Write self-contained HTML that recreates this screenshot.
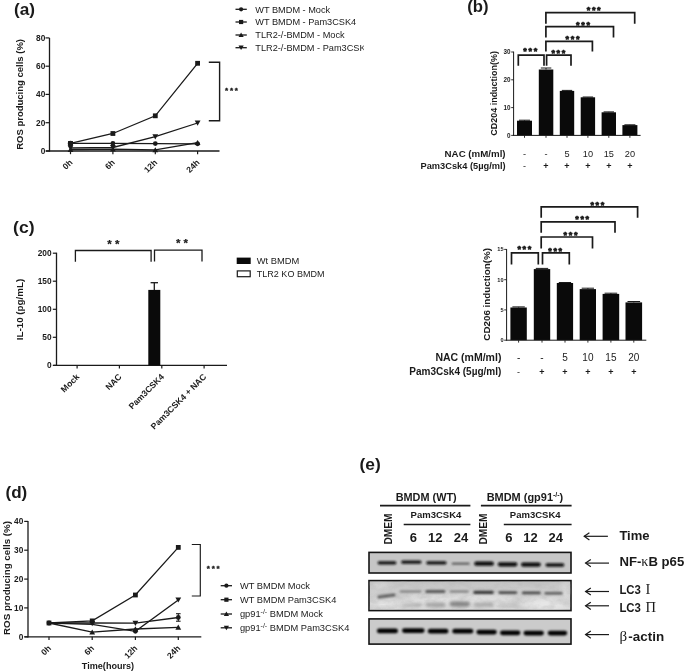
<!DOCTYPE html>
<html lang="en">
<head>
<meta charset="utf-8">
<title>Figure</title>
<style>
html,body{margin:0;padding:0;background:#fff;}
body{width:685px;height:672px;overflow:hidden;}
svg{display:block;font-family:"Liberation Sans",Arial,sans-serif;}
svg text{fill:#1a1a1a;}
</style>
</head>
<body>
<svg width="685" height="672" viewBox="0 0 685 672">
<rect x="0" y="0" width="685" height="672" fill="#ffffff"/>
<g id="panel-a">
<text x="14.0" y="14.6" font-size="17" font-weight="bold" textLength="21.0" lengthAdjust="spacingAndGlyphs">(a)</text>
<line x1="49.5" y1="38.0" x2="49.5" y2="151.6" stroke="#1a1a1a" stroke-width="1.3"/>
<line x1="46.0" y1="151.0" x2="219.5" y2="151.0" stroke="#1a1a1a" stroke-width="1.3"/>
<line x1="45.5" y1="151.0" x2="49.5" y2="151.0" stroke="#1a1a1a" stroke-width="1.2"/>
<text x="45.3" y="154.0" font-size="8.3" font-weight="bold" text-anchor="end">0</text>
<line x1="45.5" y1="122.7" x2="49.5" y2="122.7" stroke="#1a1a1a" stroke-width="1.2"/>
<text x="45.3" y="125.7" font-size="8.3" font-weight="bold" text-anchor="end">20</text>
<line x1="45.5" y1="94.4" x2="49.5" y2="94.4" stroke="#1a1a1a" stroke-width="1.2"/>
<text x="45.3" y="97.4" font-size="8.3" font-weight="bold" text-anchor="end">40</text>
<line x1="45.5" y1="66.2" x2="49.5" y2="66.2" stroke="#1a1a1a" stroke-width="1.2"/>
<text x="45.3" y="69.2" font-size="8.3" font-weight="bold" text-anchor="end">60</text>
<line x1="45.5" y1="37.9" x2="49.5" y2="37.9" stroke="#1a1a1a" stroke-width="1.2"/>
<text x="45.3" y="40.9" font-size="8.3" font-weight="bold" text-anchor="end">80</text>
<line x1="70.5" y1="151.0" x2="70.5" y2="154.2" stroke="#1a1a1a" stroke-width="1.2"/>
<text x="73.1" y="163.0" font-size="8.5" font-weight="bold" text-anchor="end" transform="rotate(-45 73.1 163.0)">0h</text>
<line x1="112.9" y1="151.0" x2="112.9" y2="154.2" stroke="#1a1a1a" stroke-width="1.2"/>
<text x="115.5" y="163.0" font-size="8.5" font-weight="bold" text-anchor="end" transform="rotate(-45 115.5 163.0)">6h</text>
<line x1="155.3" y1="151.0" x2="155.3" y2="154.2" stroke="#1a1a1a" stroke-width="1.2"/>
<text x="157.9" y="163.0" font-size="8.5" font-weight="bold" text-anchor="end" transform="rotate(-45 157.9 163.0)">12h</text>
<line x1="197.6" y1="151.0" x2="197.6" y2="154.2" stroke="#1a1a1a" stroke-width="1.2"/>
<text x="200.2" y="163.0" font-size="8.5" font-weight="bold" text-anchor="end" transform="rotate(-45 200.2 163.0)">24h</text>
<text x="23.1" y="94.4" font-size="9" font-weight="bold" text-anchor="middle" transform="rotate(-90 23.1 94.4)" textLength="110.8" lengthAdjust="spacingAndGlyphs">ROS producing cells (%)</text>
<polyline points="70.5,143.4 112.9,143.4 155.3,143.6 197.6,143.8" fill="none" stroke="#1a1a1a" stroke-width="1.3" stroke-linejoin="miter"/>
<polyline points="70.5,143.4 112.9,133.5 155.3,115.8 197.6,63.3" fill="none" stroke="#1a1a1a" stroke-width="1.3" stroke-linejoin="miter"/>
<polyline points="70.5,149.6 112.9,149.2 155.3,149.9 197.6,142.7" fill="none" stroke="#1a1a1a" stroke-width="1.3" stroke-linejoin="miter"/>
<polyline points="70.5,148.0 112.9,147.5 155.3,136.7 197.6,123.0" fill="none" stroke="#1a1a1a" stroke-width="1.3" stroke-linejoin="miter"/>
<circle cx="70.5" cy="143.4" r="2.4" fill="#1a1a1a"/>
<circle cx="112.9" cy="143.4" r="2.4" fill="#1a1a1a"/>
<circle cx="155.3" cy="143.6" r="2.4" fill="#1a1a1a"/>
<circle cx="197.6" cy="143.8" r="2.4" fill="#1a1a1a"/>
<rect x="68.1" y="141.0" width="4.8" height="4.8" fill="#1a1a1a"/>
<rect x="110.5" y="131.1" width="4.8" height="4.8" fill="#1a1a1a"/>
<rect x="152.9" y="113.4" width="4.8" height="4.8" fill="#1a1a1a"/>
<rect x="195.2" y="60.9" width="4.8" height="4.8" fill="#1a1a1a"/>
<polygon points="67.6,152.0 73.4,152.0 70.5,146.9" fill="#1a1a1a"/>
<polygon points="110.0,151.6 115.8,151.6 112.9,146.5" fill="#1a1a1a"/>
<polygon points="152.4,152.3 158.2,152.3 155.3,147.2" fill="#1a1a1a"/>
<polygon points="194.7,145.1 200.5,145.1 197.6,140.0" fill="#1a1a1a"/>
<polygon points="67.6,145.6 73.4,145.6 70.5,150.7" fill="#1a1a1a"/>
<polygon points="110.0,145.1 115.8,145.1 112.9,150.2" fill="#1a1a1a"/>
<polygon points="152.4,134.3 158.2,134.3 155.3,139.4" fill="#1a1a1a"/>
<polygon points="194.7,120.6 200.5,120.6 197.6,125.7" fill="#1a1a1a"/>
<circle cx="70.5" cy="143.4" r="2.7" fill="#1a1a1a"/>
<polyline points="208.8,62.3 219.6,62.3 219.6,120.8 208.8,120.8" fill="none" stroke="#1a1a1a" stroke-width="1.4" stroke-linejoin="miter"/>
<text x="225.0" y="92.7" font-size="8" font-weight="bold" letter-spacing="1.79" stroke="#1a1a1a" stroke-width="0.35" stroke-linejoin="round">***</text>
<clipPath id="clipA"><rect x="230" y="0" width="133.8" height="60"/></clipPath><g clip-path="url(#clipA)">
<line x1="235.5" y1="9.3" x2="246.8" y2="9.3" stroke="#1a1a1a" stroke-width="1.3"/>
<circle cx="241.1" cy="9.3" r="2.1" fill="#1a1a1a"/>
<text x="255.3" y="12.6" font-size="9.2" fill="#2a2a2a">WT BMDM - Mock</text>
<line x1="235.5" y1="22.0" x2="246.8" y2="22.0" stroke="#1a1a1a" stroke-width="1.3"/>
<rect x="239.0" y="19.9" width="4.2" height="4.2" fill="#1a1a1a"/>
<text x="255.3" y="25.3" font-size="9.2" fill="#2a2a2a">WT BMDM - Pam3CSK4</text>
<line x1="235.5" y1="35.0" x2="246.8" y2="35.0" stroke="#1a1a1a" stroke-width="1.3"/>
<polygon points="238.5,37.1 243.7,37.1 241.1,32.6" fill="#1a1a1a"/>
<text x="255.3" y="38.3" font-size="9.2" fill="#2a2a2a">TLR2-/-BMDM - Mock</text>
<line x1="235.5" y1="47.7" x2="246.8" y2="47.7" stroke="#1a1a1a" stroke-width="1.3"/>
<polygon points="238.5,45.6 243.7,45.6 241.1,50.1" fill="#1a1a1a"/>
<text x="255.3" y="51.0" font-size="9.2" fill="#2a2a2a">TLR2-/-BMDM - Pam3CSK4</text>
</g>
</g>
<g id="panel-b">
<text x="467.2" y="12.0" font-size="17" font-weight="bold" textLength="21.3" lengthAdjust="spacingAndGlyphs">(b)</text>
<line x1="524.5" y1="120.2" x2="524.5" y2="120.7" stroke="#1a1a1a" stroke-width="1.0"/>
<line x1="519.0" y1="120.2" x2="530.0" y2="120.2" stroke="#1a1a1a" stroke-width="1.0"/>
<rect x="517.0" y="120.7" width="15.0" height="14.7" fill="#0a0a0a"/>
<line x1="524.5" y1="135.4" x2="524.5" y2="137.8" stroke="#1a1a1a" stroke-width="0.9"/>
<line x1="546.0" y1="68.0" x2="546.0" y2="69.5" stroke="#1a1a1a" stroke-width="1.0"/>
<line x1="540.8" y1="68.0" x2="551.3" y2="68.0" stroke="#1a1a1a" stroke-width="1.0"/>
<rect x="538.8" y="69.5" width="14.5" height="65.9" fill="#0a0a0a"/>
<line x1="546.0" y1="135.4" x2="546.0" y2="137.8" stroke="#1a1a1a" stroke-width="0.9"/>
<line x1="567.0" y1="90.4" x2="567.0" y2="90.9" stroke="#1a1a1a" stroke-width="1.0"/>
<line x1="561.8" y1="90.4" x2="572.2" y2="90.4" stroke="#1a1a1a" stroke-width="1.0"/>
<rect x="559.8" y="90.9" width="14.4" height="44.5" fill="#0a0a0a"/>
<line x1="567.0" y1="135.4" x2="567.0" y2="137.8" stroke="#1a1a1a" stroke-width="0.9"/>
<line x1="587.9" y1="97.0" x2="587.9" y2="97.3" stroke="#1a1a1a" stroke-width="1.0"/>
<line x1="582.7" y1="97.0" x2="593.1" y2="97.0" stroke="#1a1a1a" stroke-width="1.0"/>
<rect x="580.7" y="97.3" width="14.4" height="38.1" fill="#0a0a0a"/>
<line x1="587.9" y1="135.4" x2="587.9" y2="137.8" stroke="#1a1a1a" stroke-width="0.9"/>
<line x1="608.8" y1="111.9" x2="608.8" y2="112.3" stroke="#1a1a1a" stroke-width="1.0"/>
<line x1="603.6" y1="111.9" x2="614.0" y2="111.9" stroke="#1a1a1a" stroke-width="1.0"/>
<rect x="601.6" y="112.3" width="14.4" height="23.1" fill="#0a0a0a"/>
<line x1="608.8" y1="135.4" x2="608.8" y2="137.8" stroke="#1a1a1a" stroke-width="0.9"/>
<line x1="629.9" y1="124.8" x2="629.9" y2="125.1" stroke="#1a1a1a" stroke-width="1.0"/>
<line x1="624.4" y1="124.8" x2="635.4" y2="124.8" stroke="#1a1a1a" stroke-width="1.0"/>
<rect x="622.4" y="125.1" width="15.0" height="10.3" fill="#0a0a0a"/>
<line x1="629.9" y1="135.4" x2="629.9" y2="137.8" stroke="#1a1a1a" stroke-width="0.9"/>
<line x1="513.6" y1="51.6" x2="513.6" y2="135.8" stroke="#1a1a1a" stroke-width="1.0"/>
<line x1="513.1" y1="135.4" x2="640.6" y2="135.4" stroke="#1a1a1a" stroke-width="1.0"/>
<line x1="511.2" y1="135.4" x2="513.6" y2="135.4" stroke="#1a1a1a" stroke-width="0.9"/>
<text x="510.6" y="137.6" font-size="6.3" font-weight="bold" text-anchor="end">0</text>
<line x1="511.2" y1="107.6" x2="513.6" y2="107.6" stroke="#1a1a1a" stroke-width="0.9"/>
<text x="510.6" y="109.8" font-size="6.3" font-weight="bold" text-anchor="end">10</text>
<line x1="511.2" y1="79.8" x2="513.6" y2="79.8" stroke="#1a1a1a" stroke-width="0.9"/>
<text x="510.6" y="82.0" font-size="6.3" font-weight="bold" text-anchor="end">20</text>
<line x1="511.2" y1="52.0" x2="513.6" y2="52.0" stroke="#1a1a1a" stroke-width="0.9"/>
<text x="510.6" y="54.2" font-size="6.3" font-weight="bold" text-anchor="end">30</text>
<text x="497.3" y="93.4" font-size="9.3" font-weight="bold" text-anchor="middle" transform="rotate(-90 497.3 93.4)" textLength="84.6" lengthAdjust="spacingAndGlyphs">CD204 induction(%)</text>
<polyline points="545.9,23.8 545.9,12.6 634.7,12.6 634.7,23.8" fill="none" stroke="#1a1a1a" stroke-width="1.7" stroke-linejoin="miter"/>
<polyline points="545.9,37.5 545.9,26.6 613.5,26.6 613.5,37.5" fill="none" stroke="#1a1a1a" stroke-width="1.7" stroke-linejoin="miter"/>
<polyline points="545.9,51.5 545.9,41.3 592.4,41.3 592.4,51.5" fill="none" stroke="#1a1a1a" stroke-width="1.7" stroke-linejoin="miter"/>
<polyline points="546.6,65.8 546.6,55.1 571.0,55.1 571.0,65.8" fill="none" stroke="#1a1a1a" stroke-width="1.7" stroke-linejoin="miter"/>
<polyline points="518.3,65.8 518.3,55.1 544.0,55.1 544.0,65.8" fill="none" stroke="#1a1a1a" stroke-width="1.7" stroke-linejoin="miter"/>
<text x="586.7" y="13.0" font-size="9" font-weight="bold" letter-spacing="1.70" stroke="#1a1a1a" stroke-width="0.7" stroke-linejoin="round">***</text>
<text x="576.0" y="27.5" font-size="9" font-weight="bold" letter-spacing="1.70" stroke="#1a1a1a" stroke-width="0.7" stroke-linejoin="round">***</text>
<text x="565.5" y="41.5" font-size="9" font-weight="bold" letter-spacing="1.70" stroke="#1a1a1a" stroke-width="0.7" stroke-linejoin="round">***</text>
<text x="551.4" y="55.6" font-size="9" font-weight="bold" letter-spacing="1.70" stroke="#1a1a1a" stroke-width="0.7" stroke-linejoin="round">***</text>
<text x="523.3" y="53.8" font-size="9" font-weight="bold" letter-spacing="1.70" stroke="#1a1a1a" stroke-width="0.7" stroke-linejoin="round">***</text>
<text x="505.6" y="157.0" font-size="9.4" font-weight="bold" text-anchor="end" textLength="61.0" lengthAdjust="spacingAndGlyphs">NAC (mM/ml)</text>
<text x="505.6" y="169.0" font-size="9.4" font-weight="bold" text-anchor="end" textLength="85.1" lengthAdjust="spacingAndGlyphs">Pam3Csk4 (5µg/ml)</text>
<text x="524.5" y="157.0" font-size="9.2" text-anchor="middle">-</text>
<text x="524.5" y="169.0" font-size="9" text-anchor="middle">-</text>
<text x="546.0" y="157.0" font-size="9.2" text-anchor="middle">-</text>
<text x="546.0" y="169.0" font-size="9" font-weight="bold" text-anchor="middle">+</text>
<text x="567.0" y="157.0" font-size="9.2" text-anchor="middle">5</text>
<text x="567.0" y="169.0" font-size="9" font-weight="bold" text-anchor="middle">+</text>
<text x="587.9" y="157.0" font-size="9.2" text-anchor="middle">10</text>
<text x="587.9" y="169.0" font-size="9" font-weight="bold" text-anchor="middle">+</text>
<text x="608.8" y="157.0" font-size="9.2" text-anchor="middle">15</text>
<text x="608.8" y="169.0" font-size="9" font-weight="bold" text-anchor="middle">+</text>
<text x="629.9" y="157.0" font-size="9.2" text-anchor="middle">20</text>
<text x="629.9" y="169.0" font-size="9" font-weight="bold" text-anchor="middle">+</text>
<line x1="518.6" y1="306.9" x2="518.6" y2="307.5" stroke="#1a1a1a" stroke-width="1.0"/>
<line x1="512.4" y1="306.9" x2="524.8" y2="306.9" stroke="#1a1a1a" stroke-width="1.0"/>
<rect x="510.4" y="307.5" width="16.4" height="32.7" fill="#0a0a0a"/>
<line x1="518.6" y1="340.2" x2="518.6" y2="342.6" stroke="#1a1a1a" stroke-width="0.9"/>
<line x1="542.0" y1="268.4" x2="542.0" y2="269.1" stroke="#1a1a1a" stroke-width="1.0"/>
<line x1="535.8" y1="268.4" x2="548.2" y2="268.4" stroke="#1a1a1a" stroke-width="1.0"/>
<rect x="533.8" y="269.1" width="16.4" height="71.1" fill="#0a0a0a"/>
<line x1="542.0" y1="340.2" x2="542.0" y2="342.6" stroke="#1a1a1a" stroke-width="0.9"/>
<line x1="565.0" y1="282.5" x2="565.0" y2="283.0" stroke="#1a1a1a" stroke-width="1.0"/>
<line x1="558.8" y1="282.5" x2="571.1" y2="282.5" stroke="#1a1a1a" stroke-width="1.0"/>
<rect x="556.8" y="283.0" width="16.3" height="57.2" fill="#0a0a0a"/>
<line x1="565.0" y1="340.2" x2="565.0" y2="342.6" stroke="#1a1a1a" stroke-width="0.9"/>
<line x1="587.9" y1="288.2" x2="587.9" y2="289.1" stroke="#1a1a1a" stroke-width="1.0"/>
<line x1="581.7" y1="288.2" x2="594.0" y2="288.2" stroke="#1a1a1a" stroke-width="1.0"/>
<rect x="579.7" y="289.1" width="16.3" height="51.1" fill="#0a0a0a"/>
<line x1="587.9" y1="340.2" x2="587.9" y2="342.6" stroke="#1a1a1a" stroke-width="0.9"/>
<line x1="610.9" y1="293.2" x2="610.9" y2="293.9" stroke="#1a1a1a" stroke-width="1.0"/>
<line x1="604.6" y1="293.2" x2="617.2" y2="293.2" stroke="#1a1a1a" stroke-width="1.0"/>
<rect x="602.6" y="293.9" width="16.6" height="46.3" fill="#0a0a0a"/>
<line x1="610.9" y1="340.2" x2="610.9" y2="342.6" stroke="#1a1a1a" stroke-width="0.9"/>
<line x1="633.8" y1="301.5" x2="633.8" y2="302.4" stroke="#1a1a1a" stroke-width="1.0"/>
<line x1="627.5" y1="301.5" x2="640.1" y2="301.5" stroke="#1a1a1a" stroke-width="1.0"/>
<rect x="625.5" y="302.4" width="16.6" height="37.8" fill="#0a0a0a"/>
<line x1="633.8" y1="340.2" x2="633.8" y2="342.6" stroke="#1a1a1a" stroke-width="0.9"/>
<line x1="506.6" y1="249.0" x2="506.6" y2="340.6" stroke="#1a1a1a" stroke-width="1.0"/>
<line x1="506.1" y1="340.2" x2="646.3" y2="340.2" stroke="#1a1a1a" stroke-width="1.0"/>
<line x1="504.2" y1="340.2" x2="506.6" y2="340.2" stroke="#1a1a1a" stroke-width="0.9"/>
<text x="503.6" y="342.2" font-size="5.6" font-weight="bold" text-anchor="end">0</text>
<line x1="504.2" y1="309.9" x2="506.6" y2="309.9" stroke="#1a1a1a" stroke-width="0.9"/>
<text x="503.6" y="311.9" font-size="5.6" font-weight="bold" text-anchor="end">5</text>
<line x1="504.2" y1="279.7" x2="506.6" y2="279.7" stroke="#1a1a1a" stroke-width="0.9"/>
<text x="503.6" y="281.7" font-size="5.6" font-weight="bold" text-anchor="end">10</text>
<line x1="504.2" y1="249.4" x2="506.6" y2="249.4" stroke="#1a1a1a" stroke-width="0.9"/>
<text x="503.6" y="251.4" font-size="5.6" font-weight="bold" text-anchor="end">15</text>
<text x="490.2" y="294.3" font-size="9.7" font-weight="bold" text-anchor="middle" transform="rotate(-90 490.2 294.3)" textLength="92.8" lengthAdjust="spacingAndGlyphs">CD206 induction(%)</text>
<polyline points="541.2,217.8 541.2,206.8 637.6,206.8 637.6,217.8" fill="none" stroke="#1a1a1a" stroke-width="1.7" stroke-linejoin="miter"/>
<polyline points="541.2,232.8 541.2,221.8 615.0,221.8 615.0,232.8" fill="none" stroke="#1a1a1a" stroke-width="1.7" stroke-linejoin="miter"/>
<polyline points="541.2,248.4 541.2,237.0 592.5,237.0 592.5,248.4" fill="none" stroke="#1a1a1a" stroke-width="1.7" stroke-linejoin="miter"/>
<polyline points="542.5,264.4 542.5,252.8 569.3,252.8 569.3,264.4" fill="none" stroke="#1a1a1a" stroke-width="1.7" stroke-linejoin="miter"/>
<polyline points="511.5,264.4 511.5,252.8 538.3,252.8 538.3,264.4" fill="none" stroke="#1a1a1a" stroke-width="1.7" stroke-linejoin="miter"/>
<text x="590.4" y="207.6" font-size="9" font-weight="bold" letter-spacing="1.70" stroke="#1a1a1a" stroke-width="0.7" stroke-linejoin="round">***</text>
<text x="575.2" y="222.3" font-size="9" font-weight="bold" letter-spacing="1.70" stroke="#1a1a1a" stroke-width="0.7" stroke-linejoin="round">***</text>
<text x="563.5" y="237.6" font-size="9" font-weight="bold" letter-spacing="1.70" stroke="#1a1a1a" stroke-width="0.7" stroke-linejoin="round">***</text>
<text x="548.2" y="253.6" font-size="9" font-weight="bold" letter-spacing="1.70" stroke="#1a1a1a" stroke-width="0.7" stroke-linejoin="round">***</text>
<text x="517.4" y="251.7" font-size="9" font-weight="bold" letter-spacing="1.70" stroke="#1a1a1a" stroke-width="0.7" stroke-linejoin="round">***</text>
<text x="501.4" y="360.5" font-size="10.170491803278688" font-weight="bold" text-anchor="end" textLength="66.0" lengthAdjust="spacingAndGlyphs">NAC (mM/ml)</text>
<text x="501.4" y="374.8" font-size="10.170491803278688" font-weight="bold" text-anchor="end" textLength="92.1" lengthAdjust="spacingAndGlyphs">Pam3Csk4 (5µg/ml)</text>
<text x="518.6" y="360.5" font-size="10" text-anchor="middle">-</text>
<text x="518.6" y="374.8" font-size="9" text-anchor="middle">-</text>
<text x="542.0" y="360.5" font-size="10" text-anchor="middle">-</text>
<text x="542.0" y="374.8" font-size="9" font-weight="bold" text-anchor="middle">+</text>
<text x="565.0" y="360.5" font-size="10" text-anchor="middle">5</text>
<text x="565.0" y="374.8" font-size="9" font-weight="bold" text-anchor="middle">+</text>
<text x="587.9" y="360.5" font-size="10" text-anchor="middle">10</text>
<text x="587.9" y="374.8" font-size="9" font-weight="bold" text-anchor="middle">+</text>
<text x="610.9" y="360.5" font-size="10" text-anchor="middle">15</text>
<text x="610.9" y="374.8" font-size="9" font-weight="bold" text-anchor="middle">+</text>
<text x="633.8" y="360.5" font-size="10" text-anchor="middle">20</text>
<text x="633.8" y="374.8" font-size="9" font-weight="bold" text-anchor="middle">+</text>
</g>
<g id="panel-c">
<text x="13.1" y="232.5" font-size="17" font-weight="bold" textLength="21.5" lengthAdjust="spacingAndGlyphs">(c)</text>
<line x1="56.5" y1="252.7" x2="56.5" y2="366.0" stroke="#1a1a1a" stroke-width="1.3"/>
<line x1="53.4" y1="365.4" x2="227.0" y2="365.4" stroke="#1a1a1a" stroke-width="1.3"/>
<line x1="52.8" y1="365.4" x2="56.5" y2="365.4" stroke="#1a1a1a" stroke-width="1.2"/>
<text x="51.6" y="368.4" font-size="8.3" font-weight="bold" text-anchor="end">0</text>
<line x1="52.8" y1="337.3" x2="56.5" y2="337.3" stroke="#1a1a1a" stroke-width="1.2"/>
<text x="51.6" y="340.3" font-size="8.3" font-weight="bold" text-anchor="end">50</text>
<line x1="52.8" y1="309.3" x2="56.5" y2="309.3" stroke="#1a1a1a" stroke-width="1.2"/>
<text x="51.6" y="312.3" font-size="8.3" font-weight="bold" text-anchor="end">100</text>
<line x1="52.8" y1="281.2" x2="56.5" y2="281.2" stroke="#1a1a1a" stroke-width="1.2"/>
<text x="51.6" y="284.2" font-size="8.3" font-weight="bold" text-anchor="end">150</text>
<line x1="52.8" y1="253.2" x2="56.5" y2="253.2" stroke="#1a1a1a" stroke-width="1.2"/>
<text x="51.6" y="256.2" font-size="8.3" font-weight="bold" text-anchor="end">200</text>
<line x1="77.1" y1="365.4" x2="77.1" y2="368.6" stroke="#1a1a1a" stroke-width="1.2"/>
<text x="79.9" y="377.4" font-size="8.6" font-weight="bold" text-anchor="end" transform="rotate(-45 79.9 377.4)">Mock</text>
<line x1="119.4" y1="365.4" x2="119.4" y2="368.6" stroke="#1a1a1a" stroke-width="1.2"/>
<text x="122.2" y="377.4" font-size="8.6" font-weight="bold" text-anchor="end" transform="rotate(-45 122.2 377.4)">NAC</text>
<line x1="161.8" y1="365.4" x2="161.8" y2="368.6" stroke="#1a1a1a" stroke-width="1.2"/>
<text x="164.6" y="377.4" font-size="8.6" font-weight="bold" text-anchor="end" transform="rotate(-45 164.6 377.4)">Pam3CSK4</text>
<line x1="204.1" y1="365.4" x2="204.1" y2="368.6" stroke="#1a1a1a" stroke-width="1.2"/>
<text x="206.9" y="377.4" font-size="8.6" font-weight="bold" text-anchor="end" transform="rotate(-45 206.9 377.4)">Pam3CSK4 + NAC</text>
<text x="23.0" y="309.5" font-size="9" font-weight="bold" text-anchor="middle" transform="rotate(-90 23.0 309.5)" textLength="61.5" lengthAdjust="spacingAndGlyphs">IL-10 (pg/mL)</text>
<line x1="154.3" y1="282.7" x2="154.3" y2="290.2" stroke="#1a1a1a" stroke-width="1.3"/>
<line x1="150.6" y1="282.7" x2="158.0" y2="282.7" stroke="#1a1a1a" stroke-width="1.3"/>
<rect x="148.3" y="289.9" width="12.0" height="75.5" fill="#0a0a0a"/>
<polyline points="75.4,261.8 75.4,250.5 151.1,250.5 151.1,261.8" fill="none" stroke="#1a1a1a" stroke-width="1.3" stroke-linejoin="miter"/>
<polyline points="154.5,261.4 154.5,250.1 202.0,250.1 202.0,261.4" fill="none" stroke="#1a1a1a" stroke-width="1.3" stroke-linejoin="miter"/>
<text x="107.3" y="248.2" font-size="11.5" font-weight="bold" letter-spacing="3.13" stroke="#1a1a1a" stroke-width="0.25" stroke-linejoin="round">**</text>
<text x="176.0" y="246.9" font-size="11.5" font-weight="bold" letter-spacing="3.13" stroke="#1a1a1a" stroke-width="0.25" stroke-linejoin="round">**</text>
<rect x="236.7" y="257.6" width="14.0" height="6.4" fill="#0a0a0a"/>
<rect x="237.3" y="270.9" width="12.9" height="5.8" fill="#fff" stroke="#1a1a1a" stroke-width="1.2"/>
<text x="256.8" y="263.7" font-size="9.1" fill="#2a2a2a" textLength="42.5" lengthAdjust="spacingAndGlyphs">Wt BMDM</text>
<text x="256.8" y="276.7" font-size="9.1" fill="#2a2a2a" textLength="67.7" lengthAdjust="spacingAndGlyphs">TLR2 KO BMDM</text>
</g>
<g id="panel-d">
<text x="5.5" y="498.0" font-size="17" font-weight="bold" textLength="21.8" lengthAdjust="spacingAndGlyphs">(d)</text>
<line x1="28.0" y1="520.9" x2="28.0" y2="637.4" stroke="#1a1a1a" stroke-width="1.3"/>
<line x1="24.5" y1="636.8" x2="201.3" y2="636.8" stroke="#1a1a1a" stroke-width="1.3"/>
<line x1="24.2" y1="636.8" x2="28.0" y2="636.8" stroke="#1a1a1a" stroke-width="1.2"/>
<text x="23.3" y="639.8" font-size="8.3" font-weight="bold" text-anchor="end">0</text>
<line x1="24.2" y1="607.9" x2="28.0" y2="607.9" stroke="#1a1a1a" stroke-width="1.2"/>
<text x="23.3" y="610.9" font-size="8.3" font-weight="bold" text-anchor="end">10</text>
<line x1="24.2" y1="579.1" x2="28.0" y2="579.1" stroke="#1a1a1a" stroke-width="1.2"/>
<text x="23.3" y="582.1" font-size="8.3" font-weight="bold" text-anchor="end">20</text>
<line x1="24.2" y1="550.2" x2="28.0" y2="550.2" stroke="#1a1a1a" stroke-width="1.2"/>
<text x="23.3" y="553.2" font-size="8.3" font-weight="bold" text-anchor="end">30</text>
<line x1="24.2" y1="521.4" x2="28.0" y2="521.4" stroke="#1a1a1a" stroke-width="1.2"/>
<text x="23.3" y="524.4" font-size="8.3" font-weight="bold" text-anchor="end">40</text>
<line x1="49.0" y1="636.8" x2="49.0" y2="640.0" stroke="#1a1a1a" stroke-width="1.2"/>
<text x="51.6" y="648.8" font-size="8.5" font-weight="bold" text-anchor="end" transform="rotate(-45 51.6 648.8)">0h</text>
<line x1="92.2" y1="636.8" x2="92.2" y2="640.0" stroke="#1a1a1a" stroke-width="1.2"/>
<text x="94.8" y="648.8" font-size="8.5" font-weight="bold" text-anchor="end" transform="rotate(-45 94.8 648.8)">6h</text>
<line x1="135.4" y1="636.8" x2="135.4" y2="640.0" stroke="#1a1a1a" stroke-width="1.2"/>
<text x="138.0" y="648.8" font-size="8.5" font-weight="bold" text-anchor="end" transform="rotate(-45 138.0 648.8)">12h</text>
<line x1="178.3" y1="636.8" x2="178.3" y2="640.0" stroke="#1a1a1a" stroke-width="1.2"/>
<text x="180.9" y="648.8" font-size="8.5" font-weight="bold" text-anchor="end" transform="rotate(-45 180.9 648.8)">24h</text>
<text x="108.0" y="669.3" font-size="9" font-weight="bold" text-anchor="middle" textLength="52.3" lengthAdjust="spacingAndGlyphs">Time(hours)</text>
<text x="9.6" y="578.0" font-size="9" font-weight="bold" text-anchor="middle" transform="rotate(-90 9.6 578.0)" textLength="114.0" lengthAdjust="spacingAndGlyphs">ROS producing cells (%)</text>
<polyline points="49.0,623.0 92.2,620.9 135.4,595.0 178.3,547.4" fill="none" stroke="#1a1a1a" stroke-width="1.3" stroke-linejoin="miter"/>
<polyline points="49.0,623.0 92.2,623.0 135.4,623.2 178.3,617.5" fill="none" stroke="#1a1a1a" stroke-width="1.3" stroke-linejoin="miter"/>
<polyline points="49.0,623.0 92.2,624.4 135.4,631.3 178.3,599.9" fill="none" stroke="#1a1a1a" stroke-width="1.3" stroke-linejoin="miter"/>
<polyline points="49.0,623.0 92.2,632.2 135.4,629.0 178.3,627.3" fill="none" stroke="#1a1a1a" stroke-width="1.3" stroke-linejoin="miter"/>
<line x1="178.3" y1="613.7" x2="178.3" y2="621.2" stroke="#1a1a1a" stroke-width="1.1"/>
<line x1="176.0" y1="613.7" x2="180.6" y2="613.7" stroke="#1a1a1a" stroke-width="1.1"/>
<line x1="176.0" y1="621.2" x2="180.6" y2="621.2" stroke="#1a1a1a" stroke-width="1.1"/>
<circle cx="49.0" cy="623.0" r="2.4" fill="#1a1a1a"/>
<rect x="46.6" y="620.6" width="4.8" height="4.8" fill="#1a1a1a"/>
<polygon points="89.3,621.1 95.1,621.1 92.2,626.2" fill="#1a1a1a"/>
<rect x="89.8" y="618.5" width="4.8" height="4.8" fill="#1a1a1a"/>
<polygon points="89.3,634.6 95.1,634.6 92.2,629.5" fill="#1a1a1a"/>
<rect x="133.0" y="592.6" width="4.8" height="4.8" fill="#1a1a1a"/>
<polygon points="132.5,620.8 138.3,620.8 135.4,625.9" fill="#1a1a1a"/>
<circle cx="135.4" cy="631.3" r="2.4" fill="#1a1a1a"/>
<polygon points="132.5,631.4 138.3,631.4 135.4,626.3" fill="#1a1a1a"/>
<rect x="175.9" y="545.0" width="4.8" height="4.8" fill="#1a1a1a"/>
<polygon points="175.4,597.5 181.2,597.5 178.3,602.6" fill="#1a1a1a"/>
<circle cx="178.3" cy="617.5" r="2.4" fill="#1a1a1a"/>
<polygon points="175.4,629.7 181.2,629.7 178.3,624.6" fill="#1a1a1a"/>
<polyline points="191.8,544.5 200.3,544.5 200.3,596.0 191.8,596.0" fill="none" stroke="#1a1a1a" stroke-width="1.15" stroke-linejoin="miter"/>
<text x="206.8" y="571.3" font-size="8" font-weight="bold" letter-spacing="1.79" stroke="#1a1a1a" stroke-width="0.35" stroke-linejoin="round">***</text>
<line x1="220.7" y1="585.7" x2="232.0" y2="585.7" stroke="#1a1a1a" stroke-width="1.3"/>
<circle cx="226.4" cy="585.7" r="2.1" fill="#1a1a1a"/>
<text x="239.9" y="589.0" font-size="9.3" fill="#2a2a2a">WT BMDM Mock</text>
<line x1="220.7" y1="599.7" x2="232.0" y2="599.7" stroke="#1a1a1a" stroke-width="1.3"/>
<rect x="224.3" y="597.6" width="4.2" height="4.2" fill="#1a1a1a"/>
<text x="239.9" y="603.0" font-size="9.3" fill="#2a2a2a">WT BMDM Pam3CSK4</text>
<line x1="220.7" y1="614.0" x2="232.0" y2="614.0" stroke="#1a1a1a" stroke-width="1.3"/>
<polygon points="223.8,616.1 229.0,616.1 226.4,611.6" fill="#1a1a1a"/>
<text x="239.9" y="617.3" font-size="9.3" fill="#2a2a2a">gp91<tspan font-size="7" dy="-3.6">-/-</tspan><tspan dy="3.6"> BMDM Mock</tspan></text>
<line x1="220.7" y1="627.8" x2="232.0" y2="627.8" stroke="#1a1a1a" stroke-width="1.3"/>
<polygon points="223.8,625.7 229.0,625.7 226.4,630.2" fill="#1a1a1a"/>
<text x="239.9" y="631.1" font-size="9.3" fill="#2a2a2a">gp91<tspan font-size="7" dy="-3.6">-/-</tspan><tspan dy="3.6"> BMDM Pam3CSK4</tspan></text>
</g>
<g id="panel-e">
<defs><filter id="b1" x="-20%" y="-100%" width="140%" height="300%"><feGaussianBlur stdDeviation="0.8"/></filter><filter id="b2" x="-20%" y="-100%" width="140%" height="300%"><feGaussianBlur stdDeviation="1.4"/></filter><filter id="b3" x="-30%" y="-100%" width="160%" height="300%"><feGaussianBlur stdDeviation="3"/></filter><filter id="nz" x="0" y="0" width="100%" height="100%"><feTurbulence type="fractalNoise" baseFrequency="0.09 0.16" numOctaves="3" seed="7" result="t"/><feColorMatrix in="t" type="matrix" values="0 0 0 0 0.45  0 0 0 0 0.45  0 0 0 0 0.45  1.6 0 0 0 -0.62"/></filter><linearGradient id="g2" x1="0" y1="0" x2="0" y2="1"><stop offset="0" stop-color="#c4c4c4"/><stop offset="0.45" stop-color="#cecece"/><stop offset="1" stop-color="#dadada"/></linearGradient></defs>
<text x="359.5" y="470.4" font-size="17" font-weight="bold" textLength="21.2" lengthAdjust="spacingAndGlyphs">(e)</text>
<text x="426.2" y="500.6" font-size="10.9" font-weight="bold" text-anchor="middle" textLength="61.0" lengthAdjust="spacingAndGlyphs">BMDM (WT)</text>
<text x="525.0" y="500.6" font-size="10.9" font-weight="bold" text-anchor="middle" textLength="76.6" lengthAdjust="spacingAndGlyphs">BMDM (gp91<tspan font-size="7" dy="-3.8">-/-</tspan><tspan dy="3.8">)</tspan></text>
<line x1="380.0" y1="505.6" x2="470.4" y2="505.6" stroke="#1a1a1a" stroke-width="1.6"/>
<line x1="480.9" y1="505.6" x2="571.6" y2="505.6" stroke="#1a1a1a" stroke-width="1.6"/>
<text x="436.0" y="518.2" font-size="9.6" font-weight="bold" text-anchor="middle" textLength="50.8" lengthAdjust="spacingAndGlyphs">Pam3CSK4</text>
<text x="535.2" y="518.2" font-size="9.6" font-weight="bold" text-anchor="middle" textLength="50.8" lengthAdjust="spacingAndGlyphs">Pam3CSK4</text>
<line x1="403.7" y1="524.5" x2="470.4" y2="524.5" stroke="#1a1a1a" stroke-width="1.6"/>
<line x1="503.8" y1="524.5" x2="571.6" y2="524.5" stroke="#1a1a1a" stroke-width="1.6"/>
<text x="391.7" y="529.0" font-size="10.2" font-weight="bold" text-anchor="middle" transform="rotate(-90 391.7 529.0)" textLength="31.2" lengthAdjust="spacingAndGlyphs">DMEM</text>
<text x="486.9" y="529.0" font-size="10.2" font-weight="bold" text-anchor="middle" transform="rotate(-90 486.9 529.0)" textLength="31.2" lengthAdjust="spacingAndGlyphs">DMEM</text>
<text x="413.4" y="542.0" font-size="13" font-weight="bold" text-anchor="middle">6</text>
<text x="435.2" y="542.0" font-size="13" font-weight="bold" text-anchor="middle">12</text>
<text x="460.9" y="542.0" font-size="13" font-weight="bold" text-anchor="middle">24</text>
<text x="508.8" y="542.0" font-size="13" font-weight="bold" text-anchor="middle">6</text>
<text x="530.6" y="542.0" font-size="13" font-weight="bold" text-anchor="middle">12</text>
<text x="555.8" y="542.0" font-size="13" font-weight="bold" text-anchor="middle">24</text>
<rect x="369.0" y="552.4" width="202.0" height="20.6" fill="#c6c6c6" stroke="#141414" stroke-width="1.6"/>
<rect x="377.6" y="561.2" width="18.8" height="3.2" rx="1.6" fill="#111" opacity="1.0" filter="url(#b1)"/>
<rect x="401.1" y="560.5" width="20.4" height="3.2" rx="1.6" fill="#111" opacity="1.0" filter="url(#b1)"/>
<rect x="426.2" y="561.2" width="20.4" height="3.2" rx="1.6" fill="#111" opacity="1.0" filter="url(#b1)"/>
<rect x="451.8" y="562.8" width="17.8" height="1.8" rx="0.9" fill="#444" opacity="1.0" filter="url(#b1)"/>
<rect x="474.2" y="561.6" width="19.7" height="4.2" rx="2.1" fill="#0a0a0a" opacity="1.0" filter="url(#b1)"/>
<rect x="497.8" y="562.2" width="19.6" height="4.2" rx="2.1" fill="#0a0a0a" opacity="1.0" filter="url(#b1)"/>
<rect x="521.0" y="562.5" width="19.8" height="4.2" rx="2.1" fill="#0a0a0a" opacity="1.0" filter="url(#b1)"/>
<rect x="545.5" y="563.3" width="18.8" height="3.4" rx="1.7" fill="#111" opacity="1.0" filter="url(#b1)"/>
<rect x="369.0" y="580.6" width="202.0" height="30.0" fill="url(#g2)" stroke="#141414" stroke-width="1.6"/>
<clipPath id="clip2"><rect x="369.6" y="581.2" width="200.8" height="28.8"/></clipPath><g clip-path="url(#clip2)">
<ellipse cx="385" cy="604" rx="12" ry="4" fill="#f0f0f0" opacity="0.8" filter="url(#b3)"/>
<ellipse cx="460" cy="599" rx="60" ry="3.2" fill="#ececec" opacity="0.8" filter="url(#b3)"/>
<ellipse cx="545" cy="604" rx="22" ry="5" fill="#eeeeee" opacity="0.8" filter="url(#b3)"/>
<ellipse cx="380" cy="586" rx="9" ry="3" fill="#e6e6e6" opacity="0.7" filter="url(#b3)"/>
<ellipse cx="566" cy="590" rx="4" ry="8" fill="#e8e8e8" opacity="0.7" filter="url(#b3)"/>
<ellipse cx="384" cy="610" rx="9" ry="1.6" fill="#8a8a8a" opacity="0.6" filter="url(#b3)"/>
<rect x="369.6" y="581.2" width="200.8" height="28.8" filter="url(#nz)" opacity="0.55"/>
<rect x="377.2" y="594.4" width="18.4" height="3.0" rx="1.5" fill="#5a5a5a" opacity="1" filter="url(#b1)" transform="rotate(-8 386.4 595.9)"/>
<rect x="399.6" y="590.5" width="21.8" height="2.0" rx="1.0" fill="#777" opacity="1" filter="url(#b1)"/>
<rect x="425.4" y="590.1" width="20.0" height="3.0" rx="1.5" fill="#585858" opacity="1" filter="url(#b1)"/>
<rect x="449.5" y="590.5" width="19.3" height="2.0" rx="1.0" fill="#777" opacity="1" filter="url(#b1)"/>
<rect x="473.3" y="590.7" width="20.4" height="3.2" rx="1.6" fill="#3a3a3a" opacity="1" filter="url(#b1)"/>
<rect x="498.4" y="591.2" width="18.8" height="2.8" rx="1.4" fill="#4a4a4a" opacity="1" filter="url(#b1)"/>
<rect x="521.9" y="591.5" width="18.9" height="2.8" rx="1.4" fill="#4a4a4a" opacity="1" filter="url(#b1)"/>
<rect x="544.5" y="591.9" width="18.2" height="2.6" rx="1.3" fill="#585858" opacity="1" filter="url(#b1)"/>
<rect x="403.0" y="604.1" width="18.5" height="2.6" rx="1.3" fill="#999" opacity="0.5" filter="url(#b2)"/>
<rect x="425.6" y="602.8" width="20.0" height="4.0" rx="2.0" fill="#888" opacity="0.65" filter="url(#b2)"/>
<rect x="449.6" y="601.6" width="20.4" height="4.8" rx="2.4" fill="#707070" opacity="0.8" filter="url(#b2)"/>
<rect x="473.5" y="603.1" width="20.0" height="3.4" rx="1.7" fill="#8c8c8c" opacity="0.6" filter="url(#b2)"/>
<rect x="498.5" y="604.5" width="18.0" height="2.6" rx="1.3" fill="#a0a0a0" opacity="0.4" filter="url(#b2)"/>
</g>
<rect x="369.0" y="618.9" width="202.0" height="25.2" fill="#cbcbcb" stroke="#141414" stroke-width="1.6"/>
<rect x="376.9" y="628.5" width="21.1" height="4.8" rx="2.4" fill="#050505" opacity="1.0" filter="url(#b1)"/>
<rect x="402.0" y="628.2" width="22.6" height="4.8" rx="2.4" fill="#050505" opacity="1.0" filter="url(#b1)"/>
<rect x="427.8" y="628.8" width="20.6" height="4.8" rx="2.4" fill="#050505" opacity="1.0" filter="url(#b1)"/>
<rect x="452.3" y="628.8" width="21.0" height="4.8" rx="2.4" fill="#050505" opacity="1.0" filter="url(#b1)"/>
<rect x="476.4" y="629.7" width="20.4" height="4.8" rx="2.4" fill="#050505" opacity="1.0" filter="url(#b1)"/>
<rect x="500.0" y="630.4" width="20.4" height="4.8" rx="2.4" fill="#050505" opacity="1.0" filter="url(#b1)"/>
<rect x="523.5" y="630.7" width="20.4" height="4.8" rx="2.4" fill="#050505" opacity="1.0" filter="url(#b1)"/>
<rect x="547.7" y="630.7" width="19.5" height="4.8" rx="2.4" fill="#050505" opacity="1.0" filter="url(#b1)"/>
<line x1="584.2" y1="536.3" x2="607.9" y2="536.3" stroke="#1a1a1a" stroke-width="1.2"/>
<polyline points="589.4,532.7 584.2,536.3 589.4,539.9" fill="none" stroke="#1a1a1a" stroke-width="1.2" stroke-linejoin="miter"/>
<line x1="585.6" y1="563.1" x2="609.0" y2="563.1" stroke="#1a1a1a" stroke-width="1.2"/>
<polyline points="590.8,559.5 585.6,563.1 590.8,566.7" fill="none" stroke="#1a1a1a" stroke-width="1.2" stroke-linejoin="miter"/>
<line x1="585.6" y1="591.5" x2="609.0" y2="591.5" stroke="#1a1a1a" stroke-width="1.2"/>
<polyline points="590.8,587.9 585.6,591.5 590.8,595.1" fill="none" stroke="#1a1a1a" stroke-width="1.2" stroke-linejoin="miter"/>
<line x1="585.6" y1="605.8" x2="609.0" y2="605.8" stroke="#1a1a1a" stroke-width="1.2"/>
<polyline points="590.8,602.2 585.6,605.8 590.8,609.4" fill="none" stroke="#1a1a1a" stroke-width="1.2" stroke-linejoin="miter"/>
<line x1="585.6" y1="634.6" x2="609.0" y2="634.6" stroke="#1a1a1a" stroke-width="1.2"/>
<polyline points="590.8,631.0 585.6,634.6 590.8,638.2" fill="none" stroke="#1a1a1a" stroke-width="1.2" stroke-linejoin="miter"/>
<text x="619.4" y="539.8" font-size="13" font-weight="bold" textLength="30.2" lengthAdjust="spacingAndGlyphs">Time</text>
<text x="619.4" y="565.8" font-size="13" font-weight="bold" textLength="64.8" lengthAdjust="spacingAndGlyphs">NF-<tspan font-family='"Liberation Serif","DejaVu Serif",serif' font-weight="normal" font-size="14">κ</tspan>B p65</text>
<text x="619.4" y="594.4" font-size="13" font-weight="bold" textLength="21.5" lengthAdjust="spacingAndGlyphs">LC3</text>
<text x="645.6" y="594.4" font-size="14.5" font-family='"Liberation Serif","DejaVu Serif",serif'>I</text>
<text x="619.4" y="612.3" font-size="13" font-weight="bold" textLength="21.5" lengthAdjust="spacingAndGlyphs">LC3</text>
<text x="645.4" y="612.3" font-size="14.5" font-family='"Liberation Serif","DejaVu Serif",serif'>Π</text>
<text x="619.6" y="641.3" font-size="15" font-family='"Liberation Serif","DejaVu Serif",serif'>β</text>
<text x="628.3" y="641.3" font-size="13" font-weight="bold" textLength="35.8" lengthAdjust="spacingAndGlyphs">-actin</text>
</g>
</svg>
</body>
</html>
